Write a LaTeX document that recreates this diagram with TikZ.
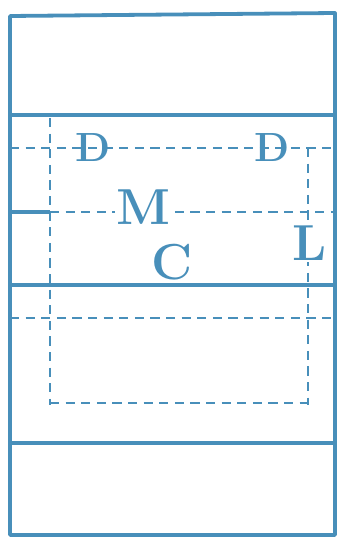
\documentclass[tikz,border=0pt]{standalone}
\usepackage{amsmath}
\usepackage[dvipsnames]{xcolor}
\definecolor{plume}{RGB}{72,143,186}

\begin{document}
\begin{tikzpicture}[x=0.25mm,y=-0.25mm,
  mur/.style={plume, line width=0.95mm, line join=round},
  tirets/.style={plume, line width=0.7mm, dash pattern=on 2.3mm off 1.6mm},
  lettre/.style={plume, font=\fontsize{36}{38}\selectfont\bfseries, inner sep=1pt}]
\useasboundingbox (0,0) rectangle (340,538);
%cadre et murs
\draw [mur] (10,16) -- (335,13) -- (335,535) -- (10,535) -- cycle;
\draw [mur] (10,115) -- (335,115);
\draw [mur] (10,285) -- (335,285);
\draw [mur] (10,443) -- (335,443);
\draw [mur] (10,212) -- (50,212);

%pointilles
\draw [tirets] (10,148) -- (335,148);
\draw [tirets] (50,212) -- (335,212);
\draw [tirets] (10,318) -- (335,318);
\draw [tirets] (50,118) -- (50,405);
\draw [tirets] (308,148) -- (308,405);
\draw [tirets] (50,403) -- (308,403);

%lettres
\node [lettre, font=\fontsize{29}{31}\selectfont\bfseries] (d1) at (93,148) {D};
\node [lettre, font=\fontsize{29}{31}\selectfont\bfseries] (d2) at (272,148) {D};
\node [lettre, fill=white] (m) at (143,207) {M};
\node [lettre] (c) at (172,262) {C};
\node [lettre, fill=white] (l) at (310,243) {L};
\end{tikzpicture}
\end{document}
